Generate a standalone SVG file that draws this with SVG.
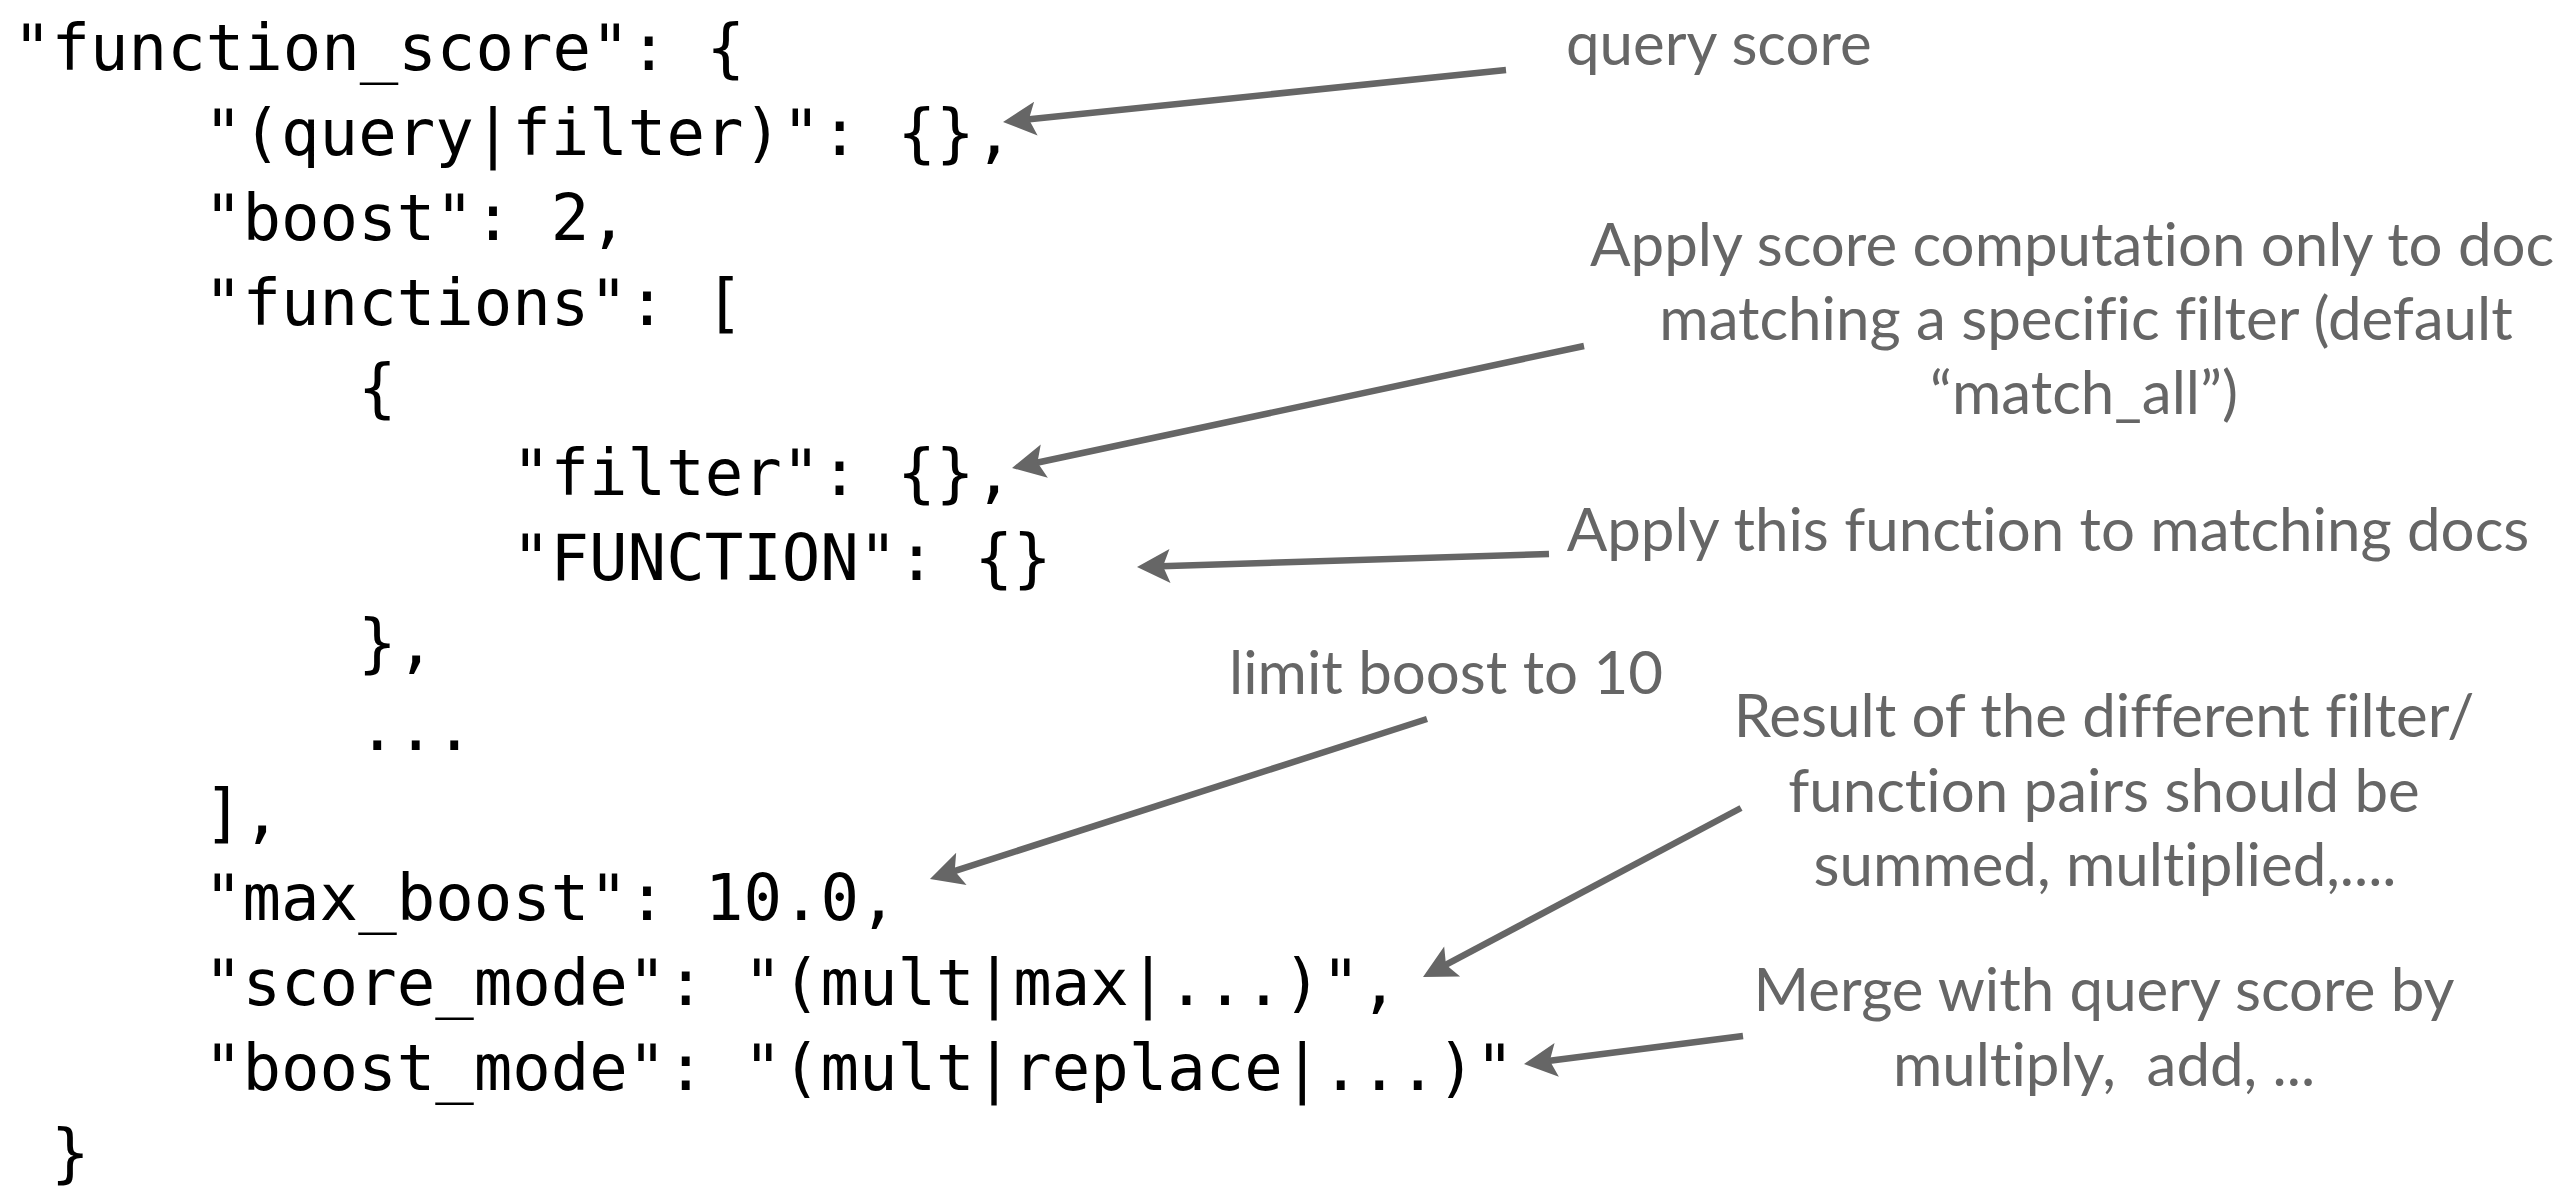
<svg xmlns="http://www.w3.org/2000/svg" width="2557" height="1188" viewBox="0 0 2557 1188">
  <style>
    .code { font-family: "DejaVu Sans Mono", "Liberation Mono", monospace; font-size: 64px; fill: #000000; }
    .note { font-family: Lato, "Liberation Sans", sans-serif; font-size: 60px; fill: #666666; font-variant-ligatures: none; }
    .mid { text-anchor: middle; }
    .arrow { fill: none; stroke: #666666; stroke-width: 6.5; marker-end: url(#head); }
  </style>
  <defs>
    <!-- notched arrowhead; the path ends 24px short of the tip -->
    <marker id="head" markerUnits="userSpaceOnUse" markerWidth="60" markerHeight="60" viewBox="-20 -30 60 60" refX="0" refY="0" orient="auto" overflow="visible">
      <path d="M24,0 L-9,-17 L-2,0 L-9,17 Z" fill="#666666"/>
    </marker>
  </defs>
  <rect width="2557" height="1188" fill="#ffffff"/>

  <!-- JSON body -->
  <g id="code">
    <text class="code" x="13" y="70">"function_score": {</text>
    <text class="code" x="204" y="155">"(query|filter)": {},</text>
    <text class="code" x="204" y="240">"boost": 2,</text>
    <text class="code" x="204" y="325">"functions": [</text>
    <text class="code" x="358" y="410">{</text>
    <text class="code" x="512" y="495">"filter": {},</text>
    <text class="code" x="512" y="580">"FUNCTION": {}</text>
    <text class="code" x="358" y="665">},</text>
    <text class="code" x="358" y="750">...</text>
    <text class="code" x="204" y="835">],</text>
    <text class="code" x="204" y="920">"max_boost": 10.0,</text>
    <text class="code" x="204" y="1005">"score_mode": "(mult|max|...)",</text>
    <text class="code" x="204" y="1090">"boost_mode": "(mult|replace|...)"</text>
    <text class="code" x="51" y="1175">}</text>
  </g>

  <!-- callout texts -->
  <g id="note-query-score">
    <text class="note" x="1566" y="65">query score</text>
  </g>
  <g id="note-filter">
    <text class="note" x="1590" y="266">Apply score computation only to doc</text>
    <text class="note mid" x="2086" y="340">matching a specific filter (default</text>
    <text class="note mid" x="2084" y="414">“match_all”)</text>
  </g>
  <g id="note-function">
    <text class="note mid" x="2048" y="551">Apply this function to matching docs</text>
  </g>
  <g id="note-max-boost">
    <text class="note mid" x="1446" y="694">limit boost to 10</text>
  </g>
  <g id="note-score-mode">
    <text class="note mid" x="2104" y="737">Result of the different filter/</text>
    <text class="note mid" x="2104" y="812">function pairs should be</text>
    <text class="note mid" x="2105" y="886">summed, multiplied,....</text>
  </g>
  <g id="note-boost-mode">
    <text class="note mid" x="2104" y="1011">Merge with query score by</text>
    <text class="note mid" x="2104" y="1086" xml:space="preserve">multiply,  add, ...</text>
  </g>

  <!-- connectors -->
  <g id="connectors">
    <path class="arrow" d="M1506,70 L1026.9,119.5"/>
    <path class="arrow" d="M1584,346 L1035.5,463"/>
    <path class="arrow" d="M1549,554 L1161,566.2"/>
    <path class="arrow" d="M1427,719 L952.8,871.6"/>
    <path class="arrow" d="M1741,808 L1444.2,965.7"/>
    <path class="arrow" d="M1743,1036 L1547.8,1061"/>
  </g>
</svg>
